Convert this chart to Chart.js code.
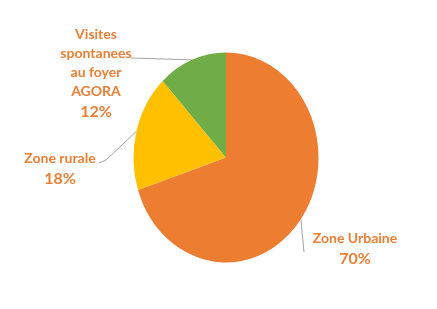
<!DOCTYPE html>
<html>
<head>
<meta charset="utf-8">
<script src="https://cdn.jsdelivr.net/npm/chart.js@4"></script>
<style>
  html, body { margin: 0; padding: 0; background: #fff; }
  #wrap { width: 437px; height: 309px; position: relative; }
</style>
</head>
<body>
<div id="wrap"><canvas id="myChart"></canvas></div>
<script>
const categories = ["Zone Urbaine", "Zone rurale", "Visites spontanees au foyer AGORA"];
const shares = [70, 18, 12];
const sliceColors = ["#ED7D31", "#FFC000", "#70AD47"];

// label text lines + where the text block sits
const labelLines = [
  ["Zone Urbaine"],
  ["Zone rurale"],
  ["Visites", "spontanees", "au foyer", "AGORA"]
];
const labelSpots = [
  { x: 355, y: 238, path: [[304, 252]] },
  { x: 60, y: 158, path: [[106, 160], [99, 163]] },
  { x: 96, y: 34, path: [[131, 58]] }
];

const yStretch = 105 / 92.5;

// the reference pie is a bit taller than wide
const stretchPlugin = {
  id: "stretch",
  beforeDatasetsDraw(chart) {
    const arc = chart.getDatasetMeta(0).data[0];
    const ctx = chart.ctx;
    ctx.save();
    ctx.translate(arc.x, arc.y);
    ctx.scale(1, yStretch);
    ctx.translate(-arc.x, -arc.y);
  },
  afterDatasetsDraw(chart) {
    chart.ctx.restore();
  }
};

const labelPlugin = {
  id: "pieLabels",
  afterDraw(chart) {
    const ctx = chart.ctx;
    const meta = chart.getDatasetMeta(0);
    meta.data.forEach((arc, i) => {
      const mid = (arc.startAngle + arc.endAngle) / 2;
      const px = arc.x + Math.cos(mid) * arc.outerRadius;
      const py = arc.y + Math.sin(mid) * arc.outerRadius * yStretch;
      const spot = labelSpots[i];

      ctx.save();
      ctx.strokeStyle = "#8c8c8c";
      ctx.lineWidth = 0.8;
      ctx.beginPath();
      ctx.moveTo(px, py);
      spot.path.forEach(p => ctx.lineTo(p[0], p[1]));
      ctx.stroke();

      ctx.fillStyle = "#EA7F35";
      ctx.textAlign = "center";
      ctx.textBaseline = "middle";
      ctx.font = "bold 14px Lato";
      const lines = labelLines[i];
      lines.forEach((t, k) => ctx.fillText(t, spot.x, spot.y + k * 19));
      ctx.font = "bold 16px Lato";
      ctx.fillText(shares[i] + "%", spot.x, spot.y + lines.length * 19 + 2);
      ctx.restore();
    });
  }
};

const ctx = document.getElementById("myChart").getContext("2d");
const myChart = new Chart(ctx, {
  type: "pie",
  data: {
    labels: categories,
    datasets: [{
      data: shares,
      backgroundColor: sliceColors,
      borderWidth: 0
    }]
  },
  options: {
    responsive: true,
    maintainAspectRatio: false,
    animation: false,
    layout: { padding: { top: 65, bottom: 59, left: 20, right: 5 } },
    plugins: {
      legend: { display: false },
      tooltip: { enabled: false }
    }
  },
  plugins: [stretchPlugin, labelPlugin]
});
</script>
</body>
</html>
